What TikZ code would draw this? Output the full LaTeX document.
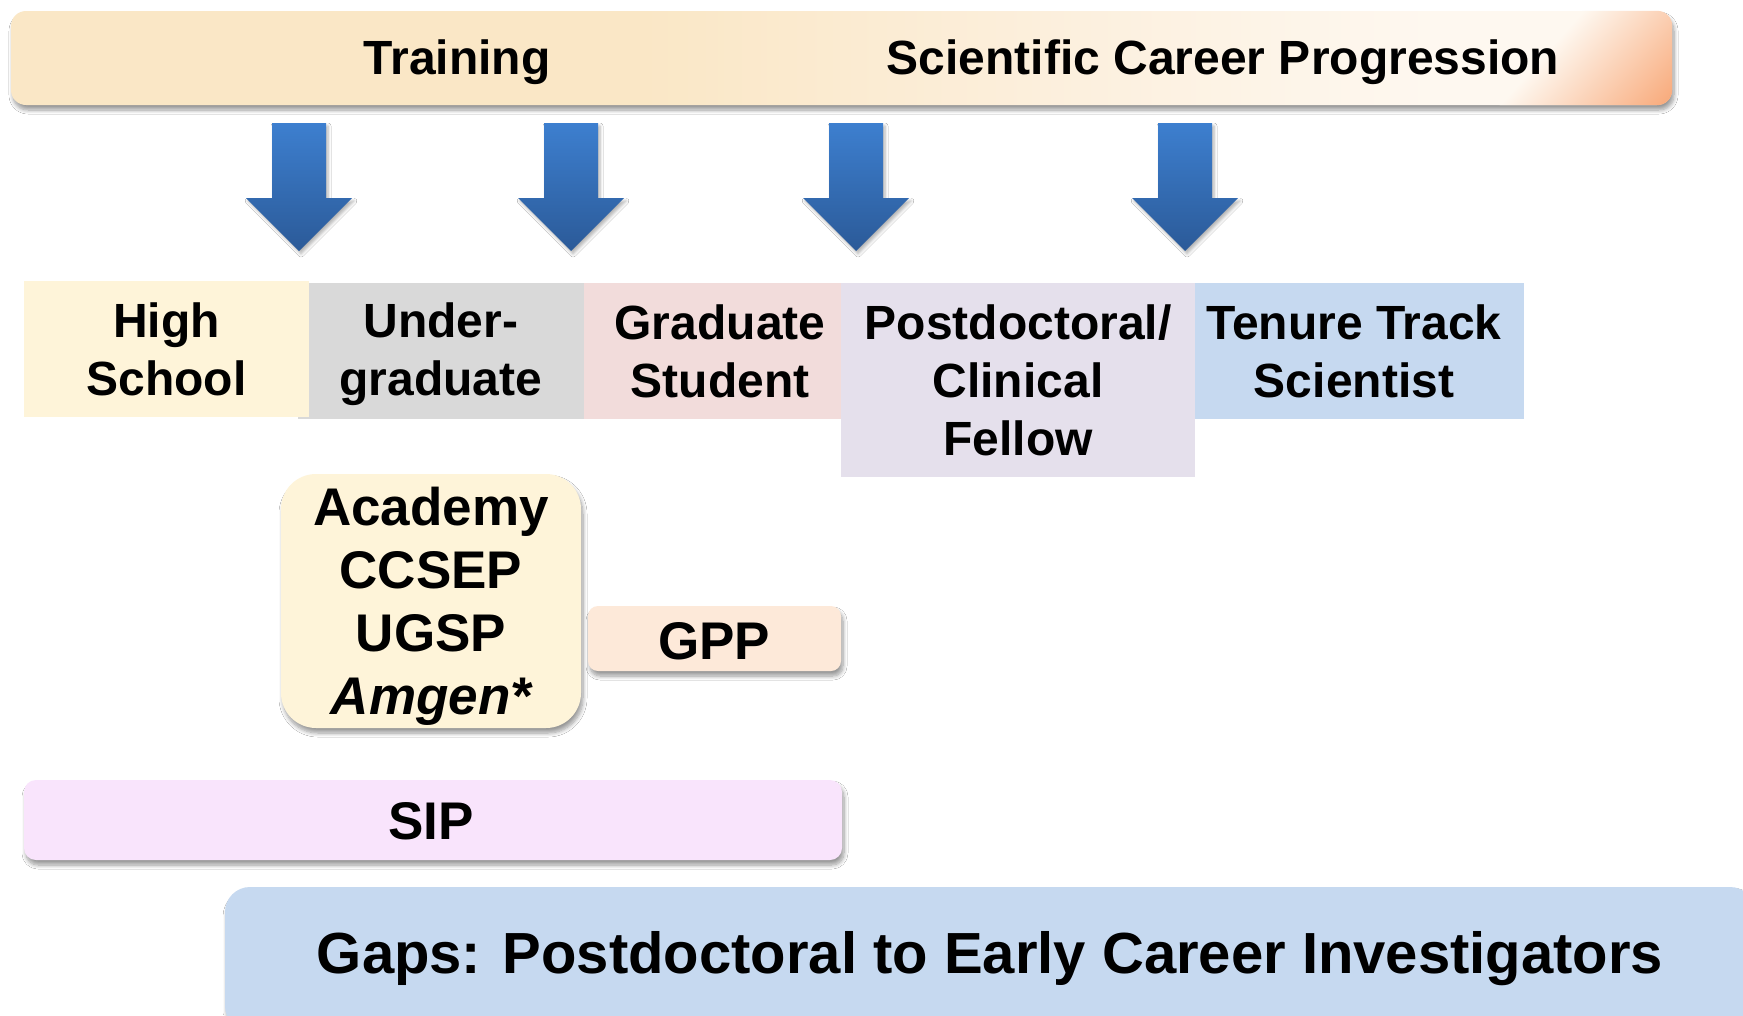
\documentclass[tikz,border=0pt]{standalone}
\usepackage{fontspec}
\setmainfont{Liberation Sans}
\usetikzlibrary{shadows.blur}

% palette
\definecolor{barL}{HTML}{FAE7C6}
\definecolor{barM}{HTML}{FCEFDC}
\definecolor{barW}{HTML}{FEF8F0}
\definecolor{barR}{HTML}{F8A878}
\definecolor{arrowTop}{HTML}{3D7FCF}
\definecolor{arrowBot}{HTML}{2B5A98}
\definecolor{hsfill}{HTML}{FEF4D9}
\definecolor{ugfill}{HTML}{D9D9D9}
\definecolor{gsfill}{HTML}{F2DCDB}
\definecolor{pdfill}{HTML}{E5E0EC}
\definecolor{ttfill}{HTML}{C6D9F0}
\definecolor{acfill}{HTML}{FEF4D9}
\definecolor{gppfill}{HTML}{FDE9D9}
\definecolor{sipfill}{HTML}{F9E4FC}
\definecolor{gapfill}{HTML}{C6D9F0}

% header band: flat tan on the left, easing to near white towards the right
\pgfdeclarehorizontalshading{headerband}{100bp}{%
  color(0bp)=(barL); color(25bp)=(barL); color(44bp)=(barL);
  color(56bp)=(barM); color(68bp)=(barW); color(100bp)=(barW)}

\newcommand\headfont{\fontsize{48}{58}\selectfont\bfseries}
\newcommand\stagefont{\fontsize{48}{58}\selectfont\bfseries}
\newcommand\progfont{\fontsize{53}{63}\selectfont\bfseries}
\newcommand\gapfont{\fontsize{58}{68}\selectfont\bfseries}

\begin{document}
\begin{tikzpicture}[x=1pt,y=-1pt,
  softshadow/.style={blur shadow={shadow xshift=2pt, shadow yshift=-5pt,
      shadow blur radius=4pt, shadow blur steps=8, shadow opacity=40}},
  stagebox/.style={rectangle, inner sep=0pt, align=center, font=\stagefont},
  progbox/.style={rectangle, rounded corners=#1, inner sep=0pt, align=center,
      font=\progfont, softshadow},
  label text/.style={inner sep=0pt, align=center},
  arrowfill/.style={top color=arrowTop, bottom color=arrowBot,
      blur shadow={shadow xshift=2pt, shadow yshift=-3pt, shadow blur radius=3pt,
      shadow blur steps=6, shadow opacity=30}},
  downarrow/.pic={\path[arrowfill] (-27,0) -- (27,0) -- (27,75) -- (53,75)
      -- (0,128) -- (-53,75) -- (-27,75) -- cycle;}
]
\useasboundingbox (0,0) rectangle (1743,1015);
\fill[white] (0,0) rectangle (1743,1015);
\clip (0,0) rectangle (1743,1015);

% header band
\node[rectangle, rounded corners=15pt, minimum width=1661pt, minimum height=94pt,
  inner sep=0pt, shading=headerband, softshadow] (band) at (841.5,58) {};
% salmon glow in the right-hand end, running diagonally
\begin{scope}
  \clip[rounded corners=15pt] (band.north west) rectangle (band.south east);
  \begin{scope}[transform canvas={rotate around={-41.45:(1600,58)}}]
    \shade[left color=barW, right color=barR] (1556,-142) rectangle (1685,258);
    \fill[barR] (1684,-142) rectangle (1900,258);
  \end{scope}
\end{scope}
\node[label text, font=\headfont] (training) at (457,62) {Training};
\node[label text, font=\headfont] (career) at (1223,62) {Scientific Career Progression};

% arrows pointing down to the career stages
\pic (a1) at (299,123) {downarrow};
\pic (a2) at (571,123) {downarrow};
\pic (a3) at (856,123) {downarrow};
\pic (a4) at (1185,123) {downarrow};

% career stages
\node[stagebox, fill=ugfill, minimum width=286pt, minimum height=136pt] (ug) at (441,351) {};
\node[label text, font=\stagefont] (ug-t) at (441,354) {Under-\\graduate};
\node[stagebox, fill=hsfill, minimum width=285pt, minimum height=136pt] (hs) at (166.5,349) {High\\School};
\node[stagebox, fill=gsfill, minimum width=257pt, minimum height=136pt] (gs) at (712.5,351) {};
\node[label text, font=\stagefont] (gs-t) at (720,351) {Graduate\\Student};
\node[stagebox, fill=pdfill, minimum width=354pt, minimum height=194pt] (pd) at (1018,380) {Postdoctoral/\\Clinical\\Fellow};
\node[stagebox, fill=ttfill, minimum width=329pt, minimum height=136pt] (tt) at (1359.5,351) {};
\node[label text, font=\stagefont] (tt-t) at (1354,351) {Tenure Track\\Scientist};

% programmes
\node[progbox=35pt, fill=acfill, minimum width=300pt, minimum height=254pt] (academy) at (431,601) {};
\node[label text, font=\progfont] (academy-t) at (431,606)
  {Academy\\CCSEP\\UGSP\\{\itshape Amgen*}};
\node[progbox=10pt, fill=gppfill, minimum width=253pt, minimum height=65pt] (gpp) at (714.5,638.5) {};
\node[label text, font=\progfont] (gpp-t) at (714,641) {GPP};
\node[progbox=12pt, fill=sipfill, minimum width=818pt, minimum height=80pt] (sip) at (433,820) {};
\node[label text, font=\progfont] (sip-t) at (431,821) {SIP};

% gaps banner
\node[rectangle, rounded corners=25pt, inner sep=0pt, fill=gapfill, softshadow,
  minimum width=1530pt, minimum height=144pt] (gaps) at (990,959) {};
\node[label text, font=\gapfont] (gaps-t) at (990,959)
  {Gaps: Postdoctoral to Early Career Investigators};
\end{tikzpicture}
\end{document}
